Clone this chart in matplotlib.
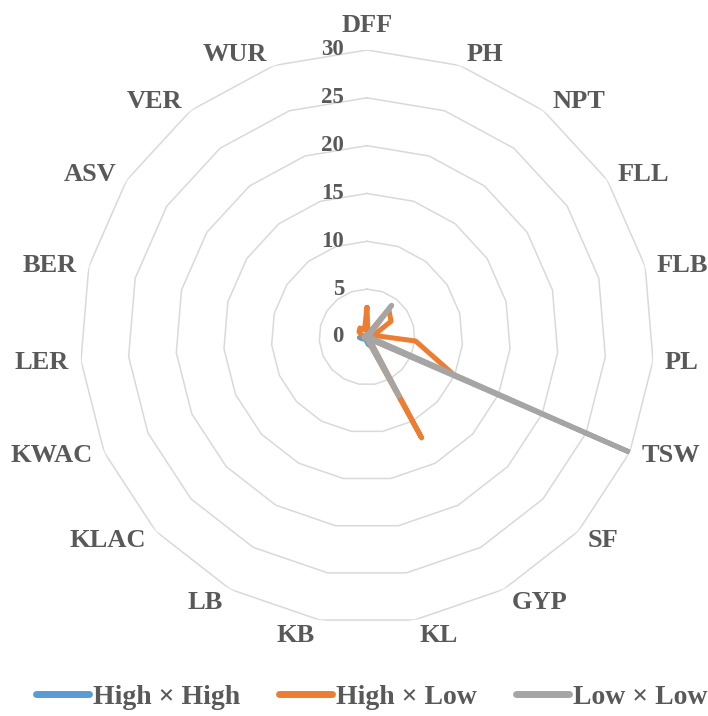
import numpy as np
import matplotlib.pyplot as plt

# radar data
categories = ['DFF', 'PH', 'NPT', 'FLL', 'FLB', 'PL', 'TSW', 'SF', 'GYP', 'KL',
              'KB', 'LB', 'KLAC', 'KWAC', 'LER', 'BER', 'ASV', 'VER', 'WUR']
high_high = [0.2, 0.2, 0.2, 0.2, 0.2, 0.3, 0.4, 0.6, 1.2, 0.8,
             0.4, 0.3, 0.3, 0.5, 0.8, 0.4, 0.3, 0.2, 0.2]
high_low = [3.1, 0.3, 3.7, 3.0, 0.7, 5.1, 10.0, 0.3, 12.0, 0.3,
            0.2, 0.2, 0.2, 0.3, 0.4, 0.5, 1.0, 1.2, 0.8]
low_low = [0.2, 0.2, 4.2, 0.3, 0.2, 0.3, 29.9, 0.3, 7.0, 0.3,
           0.2, 0.2, 0.2, 0.3, 0.3, 0.2, 0.2, 0.3, 0.2]
series_names = ['High \u00d7 High', 'High \u00d7 Low', 'Low \u00d7 Low']
rings = [0, 5, 10, 15, 20, 25, 30]

txt_col = '#595959'
plt.rcParams['font.family'] = ['Liberation Serif', 'DejaVu Serif']
plt.rcParams['font.weight'] = 'bold'

fig = plt.figure(figsize=(7.08, 7.16), dpi=100)
ax = fig.add_axes([0.113, 0.1285, 0.8107, 0.8017], projection='polar')
ax.set_theta_zero_location('N')
ax.set_theta_direction(-1)

n = len(categories)
theta = np.arange(n) * 2 * np.pi / n
theta_c = np.append(theta, theta[0])

# polygon grid like excel radar
for r in rings[1:]:
    ax.plot(theta_c, [r] * (n + 1), color='#d9d9d9', lw=1.1, zorder=1)

cols = ['#5B9BD5', '#ED7D31', '#A5A5A5']
for vals, c, name in zip([high_high, high_low, low_low], cols, series_names):
    v = np.append(vals, vals[0])
    ax.plot(theta_c, v, color=c, lw=3.6, solid_capstyle='round',
            solid_joinstyle='round', label=name, zorder=3)

ax.set_ylim(0, 30)
ax.set_xticks([])
ax.set_yticks([])
ax.grid(False)
ax.spines['polar'].set_visible(False)
ax.set_facecolor('none')

px = 72.0 / fig.dpi  # pixels -> points
cap = 0.662 * 19 / px  # cap height in pixels

# category labels, placed excel-style next to the outer vertex
for t, lab in zip(theta, categories):
    s, c = np.sin(t), np.cos(t)
    if abs(s) < 0.05:
        ha, dx = 'center', 0
    else:
        ha = 'left' if s > 0 else 'right'
        dx = np.sign(s) * (4 + 8 * abs(s))
    # vertical offset of the caps centre (screen px, down is +)
    if c > 0:
        off = -14 * c
    else:
        off = max(0.0, (abs(c) - 0.35) * 20)
    if lab == 'DFF':
        off = -26.5
    dy = -(off + cap / 2)
    ax.annotate(lab, xy=(t, 30), xytext=(dx * px, dy * px),
                textcoords='offset points', ha=ha, va='baseline', fontsize=19,
                color=txt_col, fontweight='bold', annotation_clip=False)

# value labels along the top spoke
for r in rings:
    ax.annotate(str(r), xy=(0, r), xytext=(-23 * px, 0),
                textcoords='offset points', ha='right', va='center',
                fontsize=16.5, color=txt_col, fontweight='bold',
                annotation_clip=False)

leg = fig.legend(loc='center', bbox_to_anchor=(0.525, 19 / 716), ncol=3,
                 frameon=False, prop={'size': 20, 'weight': 'bold'},
                 handlelength=1.9, columnspacing=1.4, handletextpad=0.15,
                 borderpad=0)
for tx in leg.get_texts():
    tx.set_color(txt_col)
for ln in leg.get_lines():
    ln.set_linewidth(5)

fig.savefig('out.png', dpi=100)
